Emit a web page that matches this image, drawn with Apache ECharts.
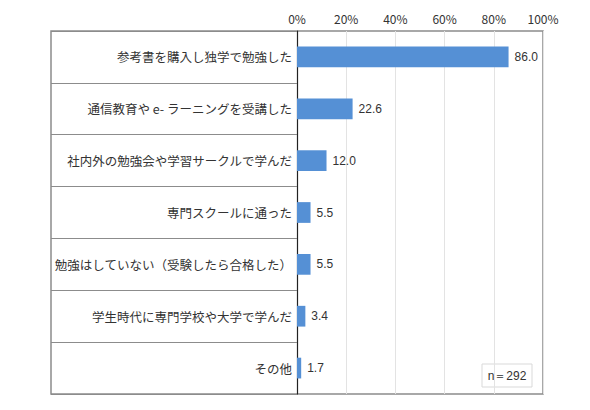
<!DOCTYPE html>
<html>
<head>
<meta charset="utf-8">
<script src="https://cdn.jsdelivr.net/npm/echarts@6/dist/echarts.min.js"></script>
<style>
  html, body { margin: 0; padding: 0; background: #fff; }
  #chart { width: 590px; height: 410px; }
</style>
</head>
<body>
<div id="chart"></div>
<script>
var categories = [
  '参考書を購入し独学で勉強した',
  '通信教育や e- ラーニングを受講した',
  '社内外の勉強会や学習サークルで学んだ',
  '専門スクールに通った',
  '勉強はしていない（受験したら合格した）',
  '学生時代に専門学校や大学で学んだ',
  'その他'
];
var values = [86.0, 22.6, 12.0, 5.5, 5.5, 3.4, 1.7];
var xTicks = [0, 20, 40, 60, 80, 100];
var sampleNote = 'n＝292';

(function() {
  var ink = '#333333';
  var frame = '#8c8c8c';
  var barColor = '#5590d5';
  var jp = "'Noto Sans CJK JP', sans-serif";
  var narrow = "'Liberation Sans Narrow', 'Liberation Sans', sans-serif";

  var chart = echarts.init(document.getElementById('chart'), null, { renderer: 'svg' });
  chart.setOption({
    animation: false,
    grid: { left: 297, right: 47, top: 31, bottom: 16 },
    xAxis: {
      type: 'value',
      position: 'top',
      min: xTicks[0],
      max: xTicks[xTicks.length - 1],
      interval: xTicks[1] - xTicks[0],
      axisLine: { show: false },
      axisTick: { show: false },
      axisLabel: {
        formatter: '{value}%',
        color: ink,
        fontSize: 12,
        fontFamily: jp,
        margin: 7
      },
      splitLine: { lineStyle: { color: '#e3e3e3', width: 1 } }
    },
    yAxis: {
      type: 'category',
      inverse: true,
      data: categories,
      axisLine: { show: true, lineStyle: { color: '#222', width: 1.2 } },
      axisTick: {
        show: true,
        length: 246,
        lineStyle: { color: frame, width: 1.2 }
      },
      axisLabel: {
        color: ink,
        fontSize: 12.5,
        fontFamily: jp,
        margin: 5
      }
    },
    series: [{
      type: 'bar',
      data: values,
      barWidth: '40%',
      itemStyle: { color: barColor },
      label: {
        show: true,
        position: 'right',
        distance: 6,
        color: ink,
        fontSize: 12,
        fontFamily: narrow,
        formatter: function(p) { return p.value.toFixed(1); }
      }
    }],
    graphic: [
      {
        type: 'rect',
        shape: { x: 51, y: 31, width: 492, height: 363 },
        style: { fill: 'none', stroke: frame, lineWidth: 1.5 },
        silent: true
      },
      {
        type: 'rect',
        shape: { x: 482, y: 364, width: 50, height: 23 },
        style: { fill: '#fff', stroke: '#d9d9d9', lineWidth: 1 },
        silent: true
      },
      {
        type: 'text',
        x: 507,
        y: 375.5,
        style: {
          text: sampleNote,
          fill: ink,
          fontSize: 12,
          fontFamily: narrow,
          align: 'center',
          verticalAlign: 'middle'
        },
        silent: true
      }
    ]
  });
  window.addEventListener('resize', function() { chart.resize(); });
})();
</script>
</body>
</html>
